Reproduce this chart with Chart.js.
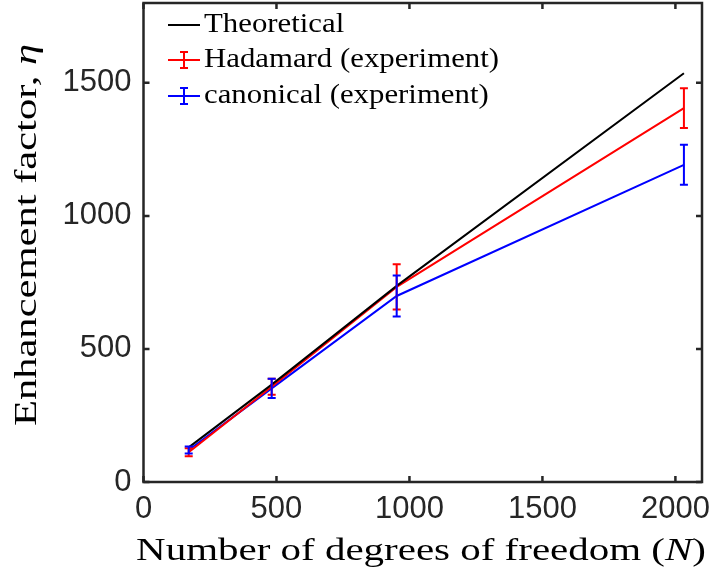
<!DOCTYPE html>
<html lang="en">
<head>
<meta charset="UTF-8">
<title>Enhancement factor vs degrees of freedom</title>
<script src="https://cdn.jsdelivr.net/npm/chart.js"></script>
<style>
    body { margin: 0; background: #ffffff; }
    canvas { display: block; }
</style>
</head>
<body>
<canvas id="grafico" width="715" height="582"></canvas>
<script>
// degrees of freedom N for each measurement
const nValues = [170, 482, 952, 2032];
// theoretical enhancement factor
const theory = [130, 366, 737, 1536];
// Hadamard basis measurements and error
const hadamard = [112, 358, 733, 1405];
const hadamardErr = [15, 30, 85, 75];
// canonical basis measurements and error
const canonical = [120, 352, 699, 1192];
const canonicalErr = [13, 36, 77, 75];

const xTicks = [0, 500, 1000, 1500, 2000];
const yTicks = [0, 500, 1000, 1500];

const legendNames = ['Theoretical', 'Hadamard (experiment)', 'canonical (experiment)'];
const axisColor = '#262626';
const serif = '"Liberation Serif", "Times New Roman", serif';
const sans = '"Liberation Sans", Arial, sans-serif';

function pts(ys) {
    return nValues.map((n, i) => ({ x: n, y: ys[i] }));
}

// draws text stretched horizontally (closer to the wide LaTeX roman face)
function wideText(ctx, parts, x, y, size, stretch, align) {
    ctx.save();
    let total = 0;
    parts.forEach(p => {
        ctx.font = (p.italic ? 'italic ' : '') + size + 'px ' + serif;
        p.w = ctx.measureText(p.t).width;
        total += p.w;
    });
    ctx.translate(x, y);
    ctx.scale(stretch, 1);
    let cx = align === 'center' ? -total / 2 : 0;
    ctx.textBaseline = 'middle';
    ctx.textAlign = 'left';
    ctx.fillStyle = '#000';
    parts.forEach(p => {
        ctx.font = (p.italic ? 'italic ' : '') + size + 'px ' + serif;
        ctx.fillText(p.t, cx, 0);
        cx += p.w;
    });
    ctx.restore();
}

function errorBar(ctx, x, yTop, yBot, cap) {
    ctx.beginPath();
    ctx.moveTo(x, yTop); ctx.lineTo(x, yBot);
    ctx.moveTo(x - cap, yTop); ctx.lineTo(x + cap, yTop);
    ctx.moveTo(x - cap, yBot); ctx.lineTo(x + cap, yBot);
    ctx.stroke();
}

const extras = {
    id: 'extras',
    afterDatasetsDraw(chart) {
        const ctx = chart.ctx;
        const xs = chart.scales.x, ys = chart.scales.y;
        chart.data.datasets.forEach(ds => {
            if (!ds.err) return;
            ctx.save();
            ctx.strokeStyle = ds.borderColor;
            ctx.lineWidth = 2;
            ds.data.forEach((p, i) => {
                const px = xs.getPixelForValue(p.x);
                errorBar(ctx, px, ys.getPixelForValue(p.y + ds.err[i]), ys.getPixelForValue(p.y - ds.err[i]), 4);
            });
            ctx.restore();
        });
    },
    afterDraw(chart) {
        const ctx = chart.ctx;
        const a = chart.chartArea;
        const xs = chart.scales.x, ys = chart.scales.y;
        ctx.save();
        // box and inward ticks on all four sides
        ctx.strokeStyle = axisColor;
        ctx.lineWidth = 2.5;
        ctx.strokeRect(a.left, a.top, a.right - a.left, a.bottom - a.top);
        ctx.beginPath();
        xTicks.forEach(v => {
            const px = xs.getPixelForValue(v);
            ctx.moveTo(px, a.bottom); ctx.lineTo(px, a.bottom - 6);
            ctx.moveTo(px, a.top); ctx.lineTo(px, a.top + 6);
        });
        yTicks.forEach(v => {
            const py = ys.getPixelForValue(v);
            ctx.moveTo(a.left, py); ctx.lineTo(a.left + 6, py);
            ctx.moveTo(a.right, py); ctx.lineTo(a.right - 6, py);
        });
        ctx.stroke();

        // legend
        const rows = [25, 60, 96];
        chart.data.datasets.forEach((ds, i) => {
            const y = rows[i];
            ctx.strokeStyle = ds.borderColor;
            ctx.lineWidth = 2;
            ctx.beginPath();
            ctx.moveTo(168, y); ctx.lineTo(200, y);
            ctx.stroke();
            if (ds.err) errorBar(ctx, 184, y - 8, y + 8, 4);
            wideText(ctx, [{ t: legendNames[i] }], 204, y, 28, 1.1, 'left');
        });

        // axis titles
        wideText(ctx, [{ t: 'Number of degrees of freedom (' }, { t: 'N', italic: true }, { t: ')' }],
            421, 552, 32, 1.28, 'center');
        ctx.save();
        ctx.translate(28, 235);
        ctx.rotate(-Math.PI / 2);
        wideText(ctx, [{ t: 'Enhancement factor, ' }, { t: 'η', italic: true }], 0, 0, 32, 1.33, 'center');
        ctx.restore();
        ctx.restore();
    }
};

new Chart(document.getElementById('grafico').getContext('2d'), {
    type: 'scatter',
    data: {
        datasets: [
            { label: legendNames[0], data: pts(theory), borderColor: '#000000', borderWidth: 2, showLine: true, pointRadius: 0 },
            { label: legendNames[1], data: pts(hadamard), err: hadamardErr, borderColor: '#ff0000', borderWidth: 2, showLine: true, pointRadius: 0 },
            { label: legendNames[2], data: pts(canonical), err: canonicalErr, borderColor: '#0000ff', borderWidth: 2, showLine: true, pointRadius: 0 }
        ]
    },
    options: {
        responsive: false,
        animation: false,
        layout: { padding: { left: 0, top: 3, right: 13, bottom: 0 } },
        plugins: { legend: { display: false }, tooltip: { enabled: false } },
        scales: {
            x: {
                type: 'linear', min: 0, max: 2100,
                afterBuildTicks: s => { s.ticks = xTicks.map(v => ({ value: v })); },
                afterFit: s => { s.height = 100; s.paddingLeft = 0; s.paddingRight = 0; },
                grid: { display: false, drawTicks: false },
                border: { display: false },
                ticks: { padding: 9, maxRotation: 0, color: axisColor, callback: v => String(v), font: { family: sans, size: 31 } }
            },
            y: {
                type: 'linear', min: 0, max: 1800,
                afterBuildTicks: s => { s.ticks = yTicks.map(v => ({ value: v })); },
                afterFit: s => { s.width = 143.5; s.paddingTop = 0; s.paddingBottom = 0; },
                grid: { display: false, drawTicks: false },
                border: { display: false },
                ticks: { padding: 12, color: axisColor, callback: v => String(v), font: { family: sans, size: 31 } }
            }
        }
    },
    plugins: [extras]
});
</script>
</body>
</html>
